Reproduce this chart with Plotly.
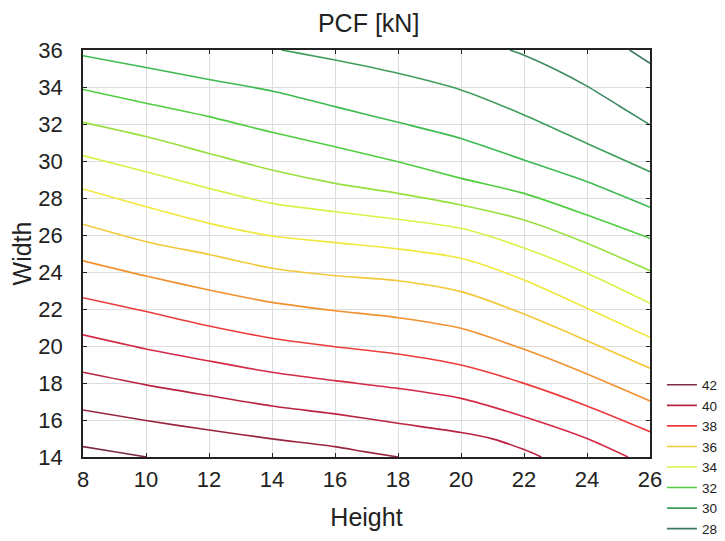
import plotly.graph_objects as go

# Contour levels of PCF [kN] (lines)
levels = [42, 41, 40, 39, 38, 37, 36, 35, 34, 33, 32, 31, 30, 29, 28]
legend_levels = [42, 40, 38, 36, 34, 32, 30, 28]

# Height positions used for lines spanning the whole width of the plot
height_full = [8, 10, 12, 14, 16, 18, 20, 22, 24, 26]

# Width values of each contour line (y) at given heights (x)
x_42 = [8, 9, 10.02]
y_42 = [14.56, 14.28, 14.0]

x_41 = [8, 10, 12, 14, 16, 16.92, 18.0]
y_41 = [16.54, 15.97, 15.46, 14.98, 14.56, 14.29, 14.0]

x_40 = [8, 10, 12, 14, 16, 18, 20, 21, 22, 22.55]
y_40 = [18.58, 17.9, 17.32, 16.76, 16.33, 15.82, 15.32, 14.98, 14.4, 14.0]

x_39 = [8, 10, 12, 14, 16, 18, 20, 22, 24, 25.3]
y_39 = [20.6, 19.84, 19.19, 18.58, 18.13, 17.71, 17.17, 16.18, 15.0, 14.0]

y_38 = [22.61, 21.86, 21.08, 20.42, 19.96, 19.57, 18.97, 17.98, 16.76, 15.37]
y_37 = [24.6, 23.78, 23.03, 22.36, 21.91, 21.53, 20.96, 19.82, 18.49, 17.03]
y_36 = [26.58, 25.64, 24.95, 24.2, 23.8, 23.53, 22.94, 21.73, 20.29, 18.8]
y_35 = [28.49, 27.53, 26.63, 25.95, 25.59, 25.25, 24.74, 23.57, 22.04, 20.47]
y_34 = [30.29, 29.42, 28.52, 27.71, 27.26, 26.85, 26.36, 25.3, 23.93, 22.31]
y_33 = [32.09, 31.32, 30.41, 29.51, 28.79, 28.25, 27.62, 26.81, 25.55, 24.07]
y_32 = [33.87, 33.12, 32.40, 31.55, 30.77, 29.96, 29.06, 28.25, 27.08, 25.82]
y_31 = [35.69, 35.05, 34.41, 33.78, 32.94, 32.09, 31.22, 30.05, 28.88, 27.5]

x_30 = [14.3, 16, 18, 20, 22, 24, 26]
y_30 = [36.0, 35.46, 34.74, 33.84, 32.49, 30.95, 29.42]

x_29 = [21.55, 22, 23, 24, 25, 26]
y_29 = [36.0, 35.72, 34.95, 34.05, 33.0, 31.95]

x_28 = [25.35, 26]
y_28 = [36.0, 35.28]

line_colors = ["#7b2d3f", "#9a2540", "#b8243f", "#d42a45", "#ec3b3b", "#f2902e",
               "#f2c83a", "#f0e83a", "#dcf04a", "#98e040", "#4fcf3f", "#3dba4f",
               "#3f9e5c", "#3d8a62", "#3f7a60"]

xs = [x_42, x_41, x_40, x_39, height_full, height_full, height_full, height_full,
      height_full, height_full, height_full, height_full, x_30, x_29, x_28]
ys = [y_42, y_41, y_40, y_39, y_38, y_37, y_36, y_35, y_34, y_33, y_32, y_31,
      y_30, y_29, y_28]

FONT = "Liberation Sans, Arial, sans-serif"

fig = go.Figure()
for lev, xv, yv, col in zip(levels, xs, ys, line_colors):
    fig.add_trace(go.Scatter(
        x=xv, y=yv, mode="lines", name=str(lev),
        line=dict(color=col, width=1.6, shape="spline", smoothing=0.7),
        showlegend=lev in legend_levels, hoverinfo="skip"))

axis_common = dict(
    showgrid=True, gridcolor="#dddddd", gridwidth=1,
    showline=True, linecolor="#222222", linewidth=1.5, mirror="ticks",
    ticks="inside", ticklen=4, tickcolor="#222222", tickwidth=1.2,
    zeroline=False, dtick=2,
    tickfont=dict(family=FONT, size=22, color="#222222"),
)

# the page body adds an 8px offset; figure is sized to the remaining area
fig.update_layout(
    width=717, height=533,
    margin=dict(l=75, r=75, t=42, b=84, autoexpand=False),
    paper_bgcolor="white", plot_bgcolor="white",
    title=dict(text="PCF [kN]", x=0.503, xanchor="center", y=0.972, yanchor="middle",
               font=dict(family=FONT, size=25, color="#222222")),
    xaxis=dict(range=[8, 26], title=dict(text="Height", standoff=17,
               font=dict(family=FONT, size=25, color="#222222")),
               ticklabelstandoff=2, **axis_common),
    yaxis=dict(range=[14, 36], title=dict(text="Width", standoff=4,
               font=dict(family=FONT, size=25, color="#222222")),
               ticklabelstandoff=14, **axis_common),
    legend=dict(x=1.021, xanchor="left", y=-0.215, yanchor="bottom",
                bgcolor="rgba(0,0,0,0)", itemwidth=30, tracegroupgap=0,
                font=dict(family=FONT, size=13.5, color="#222222")),
    showlegend=True,
)

fig.write_html("out.html")
